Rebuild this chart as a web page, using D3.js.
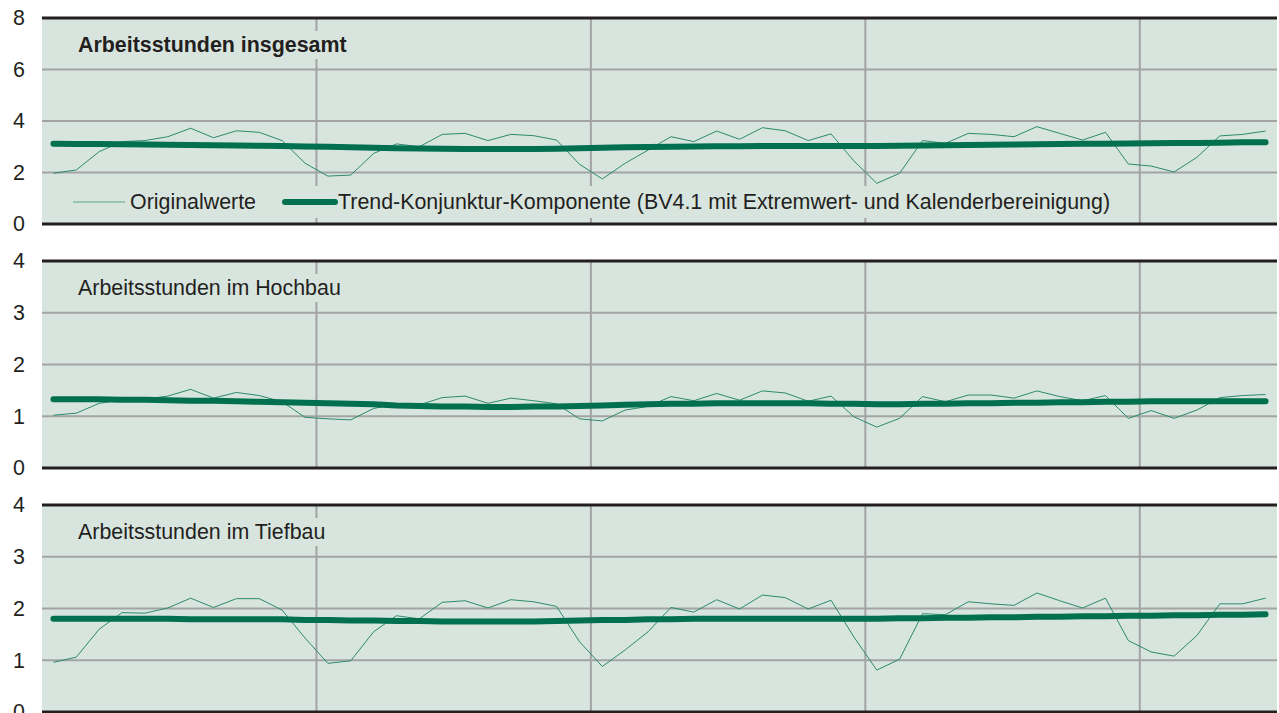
<!DOCTYPE html>
<html>
<head>
<meta charset="utf-8">
<script src="https://cdn.jsdelivr.net/npm/d3@7"></script>
<style>
  html, body { margin: 0; padding: 0; background: #ffffff; }
  svg { display: block; }
  text { font-family: "Liberation Sans", Arial, Helvetica, sans-serif; fill: #231f20; }
</style>
</head>
<body>
<svg id="chart" width="1279" height="713"></svg>
<script>
// ---------- data ----------
const monthCount = 54; // monthly observations, Jan of year 1 to Jun of year 5
const yearBreaks = [12, 24, 36, 48];

const panelTitles = ["Arbeitsstunden insgesamt", "Arbeitsstunden im Hochbau", "Arbeitsstunden im Tiefbau"];
const legendLabels = ["Originalwerte", "Trend-Konjunktur-Komponente (BV4.1 mit Extremwert- und Kalenderbereinigung)"];

const ticksInsgesamt = [0, 2, 4, 6, 8];
const ticksHochbau = [0, 1, 2, 3, 4];
const ticksTiefbau = [0, 1, 2, 3, 4];

const origInsgesamt = [1.97, 2.10, 2.81, 3.20, 3.24, 3.39, 3.72, 3.35, 3.62, 3.56, 3.24, 2.36,
  1.86, 1.90, 2.74, 3.11, 3.00, 3.48, 3.52, 3.24, 3.48, 3.43, 3.26, 2.32,
  1.75, 2.36, 2.87, 3.39, 3.20, 3.61, 3.29, 3.74, 3.62, 3.24, 3.50, 2.45,
  1.58, 1.97, 3.24, 3.13, 3.52, 3.48, 3.39, 3.78, 3.52, 3.26, 3.56, 2.33,
  2.25, 2.02, 2.59, 3.42, 3.48, 3.61];
const trendInsgesamt = [3.12, 3.11, 3.11, 3.10, 3.09, 3.08, 3.07, 3.06, 3.05, 3.04, 3.03, 3.01,
  3.00, 2.98, 2.96, 2.94, 2.93, 2.92, 2.91, 2.91, 2.91, 2.91, 2.92, 2.94,
  2.96, 2.98, 2.99, 3.00, 3.01, 3.02, 3.02, 3.03, 3.03, 3.03, 3.03, 3.03,
  3.03, 3.04, 3.05, 3.06, 3.07, 3.08, 3.09, 3.10, 3.11, 3.12, 3.12, 3.13,
  3.14, 3.15, 3.15, 3.16, 3.17, 3.17];

const origHochbau = [1.02, 1.06, 1.25, 1.32, 1.33, 1.39, 1.52, 1.35, 1.46, 1.40, 1.28, 0.98,
  0.95, 0.93, 1.15, 1.24, 1.22, 1.36, 1.39, 1.25, 1.35, 1.30, 1.24, 0.95,
  0.91, 1.12, 1.19, 1.38, 1.30, 1.44, 1.31, 1.49, 1.45, 1.29, 1.39, 0.99,
  0.79, 0.96, 1.38, 1.28, 1.41, 1.41, 1.35, 1.49, 1.38, 1.30, 1.40, 0.96,
  1.11, 0.96, 1.12, 1.36, 1.40, 1.42];
const trendHochbau = [1.33, 1.33, 1.33, 1.32, 1.32, 1.31, 1.30, 1.30, 1.29, 1.28, 1.27, 1.26,
  1.25, 1.24, 1.23, 1.21, 1.20, 1.19, 1.19, 1.18, 1.18, 1.19, 1.19, 1.20,
  1.21, 1.22, 1.23, 1.24, 1.24, 1.25, 1.25, 1.25, 1.25, 1.25, 1.24, 1.24,
  1.23, 1.23, 1.24, 1.24, 1.25, 1.25, 1.26, 1.26, 1.27, 1.27, 1.28, 1.28,
  1.29, 1.29, 1.29, 1.29, 1.29, 1.29];

const origTiefbau = [0.96, 1.06, 1.60, 1.92, 1.91, 2.01, 2.20, 2.02, 2.19, 2.19, 1.97, 1.43,
  0.94, 0.99, 1.55, 1.86, 1.80, 2.12, 2.15, 2.01, 2.17, 2.13, 2.04, 1.36,
  0.88, 1.20, 1.55, 2.02, 1.93, 2.17, 1.99, 2.26, 2.21, 1.99, 2.16, 1.45,
  0.81, 1.02, 1.90, 1.88, 2.13, 2.09, 2.06, 2.30, 2.15, 2.01, 2.20, 1.38,
  1.16, 1.08, 1.48, 2.09, 2.09, 2.20];
const trendTiefbau = [1.80, 1.80, 1.80, 1.80, 1.80, 1.80, 1.79, 1.79, 1.79, 1.79, 1.79, 1.78,
  1.78, 1.77, 1.77, 1.76, 1.76, 1.75, 1.75, 1.75, 1.75, 1.75, 1.76, 1.77,
  1.78, 1.78, 1.79, 1.79, 1.80, 1.80, 1.80, 1.80, 1.80, 1.80, 1.80, 1.80,
  1.80, 1.81, 1.81, 1.82, 1.82, 1.83, 1.83, 1.84, 1.84, 1.85, 1.85, 1.86,
  1.86, 1.87, 1.87, 1.88, 1.88, 1.89];

// ---------- layout ----------
const svg = d3.select("#chart");
const left = 42, right = 1277;
const colors = { bg: "#d8e5de", grid: "#a2a4a3", border: "#231f20", orig: "#2b8a6a", trend: "#00704e" };

const x = d3.scaleLinear().domain([0, monthCount]).range([left, right]);

const panels = [
  { top: 18, bottom: 224, max: 8, ticks: ticksInsgesamt, orig: origInsgesamt, trend: trendInsgesamt, title: panelTitles[0], bold: true, legend: true },
  { top: 261, bottom: 468, max: 4, ticks: ticksHochbau, orig: origHochbau, trend: trendHochbau, title: panelTitles[1], bold: false },
  { top: 505, bottom: 712, max: 4, ticks: ticksTiefbau, orig: origTiefbau, trend: trendTiefbau, title: panelTitles[2], bold: false }
];

const fontSize = 21.4;

panels.forEach(p => {
  const y = d3.scaleLinear().domain([0, p.max]).range([p.bottom, p.top]);
  const g = svg.append("g");

  // background
  g.append("rect").attr("x", left).attr("y", p.top).attr("width", right - left).attr("height", p.bottom - p.top)
    .attr("fill", colors.bg);

  // horizontal grid
  g.append("g").selectAll("line").data(p.ticks.slice(1, -1)).join("line")
    .attr("x1", left).attr("x2", right)
    .attr("y1", d => y(d)).attr("y2", d => y(d))
    .attr("stroke", colors.grid).attr("stroke-width", 2);

  // vertical grid at year breaks
  g.append("g").selectAll("line").data(yearBreaks).join("line")
    .attr("x1", d => x(d)).attr("x2", d => x(d))
    .attr("y1", p.top).attr("y2", p.bottom)
    .attr("stroke", colors.grid).attr("stroke-width", 2);

  // title box + title
  const titleBase = p.top + 34;
  const tg = g.append("g");
  const tbox = tg.append("rect").attr("fill", colors.bg);
  const tt = tg.append("text").attr("x", 78).attr("y", titleBase)
    .attr("font-size", fontSize).attr("font-weight", p.bold ? "bold" : "normal").text(p.title);
  const bb = tt.node().getBBox();
  tbox.attr("x", bb.x - 6).attr("y", titleBase - 21).attr("width", bb.width + 12).attr("height", 28);

  // legend (first panel only)
  if (p.legend) {
    const lg = g.append("g");
    lg.append("rect").attr("x", 60).attr("y", 186).attr("width", 1068).attr("height", 32).attr("fill", colors.bg);
    const ly = 202;
    lg.append("line").attr("x1", 73).attr("x2", 125).attr("y1", ly).attr("y2", ly)
      .attr("stroke", colors.orig).attr("stroke-width", 1).attr("stroke-opacity", 0.7);
    lg.append("text").attr("x", 130).attr("y", ly + 6.5).attr("font-size", fontSize).text(legendLabels[0]);
    lg.append("line").attr("x1", 285).attr("x2", 335).attr("y1", ly).attr("y2", ly)
      .attr("stroke", colors.trend).attr("stroke-width", 6).attr("stroke-linecap", "round");
    lg.append("text").attr("x", 338).attr("y", ly + 6.5).attr("font-size", fontSize).text(legendLabels[1]);
  }

  // series
  const line = d3.line().x((d, i) => x(i + 0.5)).y(d => y(d));
  g.append("path").datum(p.orig).attr("d", line)
    .attr("fill", "none").attr("stroke", colors.orig).attr("stroke-width", 1).attr("stroke-linejoin", "miter");
  g.append("path").datum(p.trend).attr("d", line)
    .attr("fill", "none").attr("stroke", colors.trend).attr("stroke-width", 6)
    .attr("stroke-linecap", "round").attr("stroke-linejoin", "round");

  // top / bottom borders
  g.append("line").attr("x1", left).attr("x2", right).attr("y1", p.top).attr("y2", p.top)
    .attr("stroke", colors.border).attr("stroke-width", 3);
  g.append("line").attr("x1", left).attr("x2", right).attr("y1", p.bottom).attr("y2", p.bottom)
    .attr("stroke", colors.border).attr("stroke-width", 3);

  // y axis labels
  const axis = d3.axisLeft(y).tickValues(p.ticks).tickSize(0).tickPadding(0).tickFormat(d3.format("d"));
  const ag = svg.append("g").attr("transform", `translate(25,0)`).call(axis);
  ag.select(".domain").remove();
  ag.selectAll("text").attr("font-size", fontSize).attr("fill", "#231f20")
    .attr("font-family", "'Liberation Sans', Arial, sans-serif");
});
</script>
</body>
</html>
